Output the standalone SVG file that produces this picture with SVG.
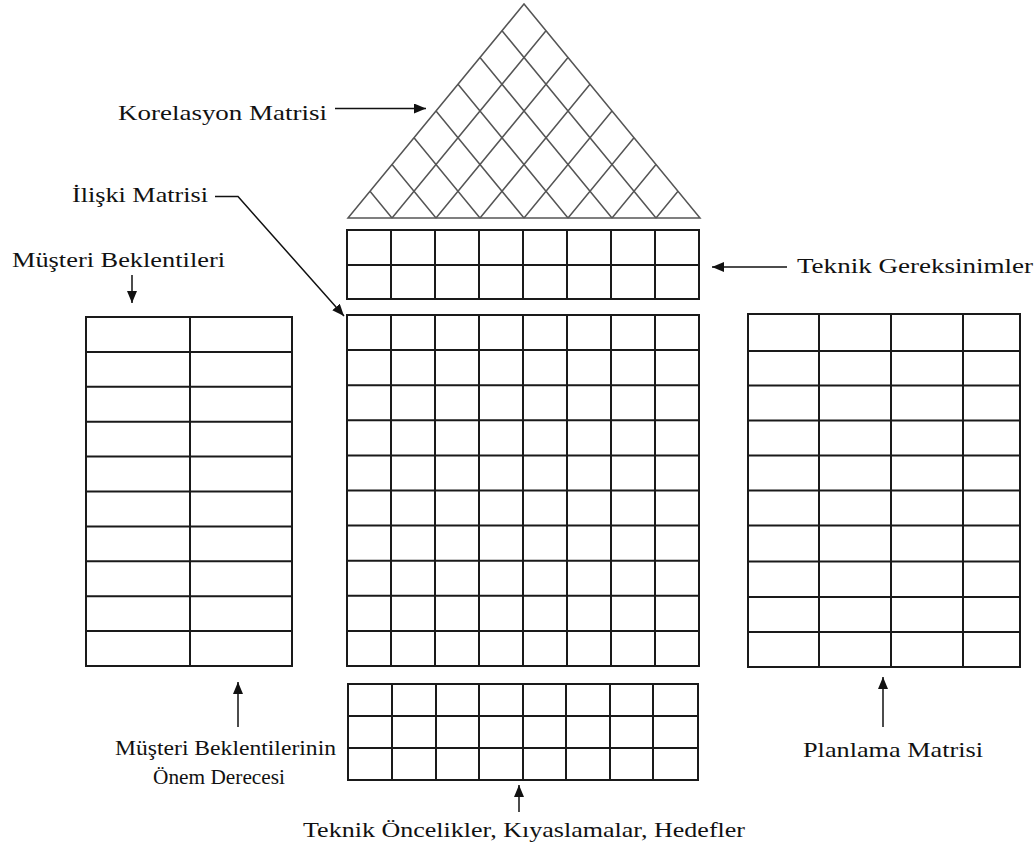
<svg xmlns="http://www.w3.org/2000/svg" width="1035" height="850" viewBox="0 0 1035 850">
<defs>
<marker id="ah" markerUnits="userSpaceOnUse" markerWidth="14" markerHeight="12" refX="12" refY="5" orient="auto">
<path d="M0,0 L12,5 L0,10 Z" fill="#111"/>
</marker>
<style>
.lbl{font-family:"Liberation Serif","Times New Roman","DejaVu Serif",serif;font-size:22px;fill:#111}
.grid{stroke:#1a1a1a;stroke-width:2;fill:none}
.tri{stroke:#555;stroke-width:1.5;fill:none}
.con{stroke:#111;stroke-width:1.5;fill:none;marker-end:url(#ah)}
</style>
</defs>
<rect width="1035" height="850" fill="#fff"/>

<g id="korelasyon-matrisi">
<path class="tri" d="M348,218 L524,4 L700,218 Z"/>
<path class="tri" d="M392,218 L370,191.25 M436,218 L392,164.5 M480,218 L414,137.75 M524,218 L436,111 M568,218 L458,84.25 M612,218 L480,57.5 M656,218 L502,30.75
M392,218 L546,30.75 M436,218 L568,57.5 M480,218 L590,84.25 M524,218 L612,111 M568,218 L634,137.75 M612,218 L656,164.5 M656,218 L678,191.25"/>
</g>

<g id="teknik-gereksinimler">
<rect class="grid" x="347" y="230" width="352" height="69"/>
<path class="grid" d="M347,265 H699 M391,230 V299 M435,230 V299 M479,230 V299 M523,230 V299 M567,230 V299 M611,230 V299 M655,230 V299"/>
</g>

<g id="iliski-matrisi">
<rect class="grid" x="347" y="315" width="352" height="351"/>
<path class="grid" d="M347,350.1 H699 M347,385.2 H699 M347,420.3 H699 M347,455.4 H699 M347,490.5 H699 M347,525.6 H699 M347,560.7 H699 M347,595.8 H699 M347,630.9 H699
M391,315 V666 M435,315 V666 M479,315 V666 M523,315 V666 M567,315 V666 M611,315 V666 M655,315 V666"/>
</g>

<g id="musteri-beklentileri">
<rect class="grid" x="86" y="317" width="206" height="349"/>
<path class="grid" d="M190,317 V666 M86,351.9 H292 M86,386.8 H292 M86,421.7 H292 M86,456.6 H292 M86,491.5 H292 M86,526.4 H292 M86,561.3 H292 M86,596.2 H292 M86,631.1 H292"/>
</g>

<g id="planlama-matrisi">
<rect class="grid" x="748" y="314" width="272" height="353"/>
<path class="grid" d="M819,314 V667 M891,314 V667 M963,314 V667
M748,351 H1020 M748,385.5 H1020 M748,420.5 H1020 M748,455.5 H1020 M748,490.5 H1020 M748,525.5 H1020 M748,561.5 H1020 M748,597 H1020 M748,632 H1020"/>
</g>

<g id="teknik-oncelikler">
<rect class="grid" x="348" y="684" width="350" height="96"/>
<path class="grid" d="M348,716 H698 M348,748 H698 M392,684 V780 M436,684 V780 M479,684 V780 M523,684 V780 M566,684 V780 M610,684 V780 M653,684 V780"/>
</g>

<g id="labels">
<text class="lbl" x="118" y="120" textLength="209" lengthAdjust="spacingAndGlyphs">Korelasyon Matrisi</text>
<text class="lbl" x="72" y="202" textLength="136" lengthAdjust="spacingAndGlyphs">İlişki Matrisi</text>
<text class="lbl" x="12" y="267" textLength="213" lengthAdjust="spacingAndGlyphs">Müşteri Beklentileri</text>
<text class="lbl" x="797" y="273" textLength="236" lengthAdjust="spacingAndGlyphs">Teknik Gereksinimler</text>
<text class="lbl" x="115" y="755" textLength="221" lengthAdjust="spacingAndGlyphs">Müşteri Beklentilerinin</text>
<text class="lbl" x="153" y="784" textLength="132" lengthAdjust="spacingAndGlyphs">Önem Derecesi</text>
<text class="lbl" x="803" y="757" textLength="180" lengthAdjust="spacingAndGlyphs">Planlama Matrisi</text>
<text class="lbl" x="303" y="837" textLength="442" lengthAdjust="spacingAndGlyphs">Teknik Öncelikler, Kıyaslamalar, Hedefler</text>
</g>

<g id="connectors">
<line class="con" x1="335" y1="108.5" x2="426" y2="108.5"/>
<polyline class="con" points="215,196.5 238,196.5 344,316"/>
<line class="con" x1="787" y1="267" x2="712" y2="267"/>
<line class="con" x1="132" y1="275" x2="132" y2="303"/>
<line class="con" x1="238" y1="727" x2="238" y2="682"/>
<line class="con" x1="883" y1="727" x2="883" y2="677"/>
<line class="con" x1="519" y1="812" x2="519" y2="785"/>
</g>
</svg>
